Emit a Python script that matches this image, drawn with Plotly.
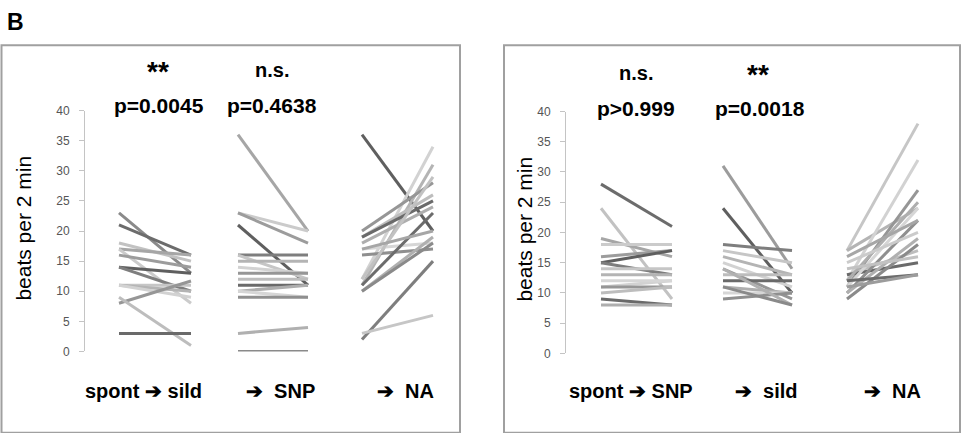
import plotly.graph_objects as go

W, H = 962, 433

# ---------------- data (beats per 2 min) ----------------
# Left panel: spont -> sild, sild -> SNP, SNP -> NA
L1_before = [23, 21, 18, 17, 17, 16, 14, 14, 11, 11, 11, 8, 9, 3]
L1_after  = [13, 16, 15, 16, 8, 14, 13, 10, 11, 10, 9, 11.7, 1, 3]
L2_before = [36, 23, 23, 21, 16, 16, 15, 14, 13, 12, 11, 10, 10, 9, 3, 0]
L2_after  = [20, 20, 18, 11, 16, 12, 15, 13, 13, 12, 11, 11, 9, 9, 4, 0]
L3_before = [36, 2, 3, 11, 12, 20, 19, 19, 18, 17, 16, 10, 10, 11, 12, 17]
L3_after  = [20, 15, 6, 31, 34, 28, 26, 25, 24, 18, 17, 19, 18, 23, 29, 20]

# Right panel: spont -> SNP, SNP -> sild, sild -> NA
R1_before = [28, 24, 19, 18, 16, 15, 15, 14, 13, 11, 11, 10, 9, 8, 12]
R1_after  = [21, 9, 16, 18, 17, 17, 13, 14, 13, 12, 11, 11, 8, 8, 12]
R2_before = [31, 24, 18, 17, 16, 15, 14, 13, 12, 11, 10, 9, 14, 11]
R2_after  = [14, 10, 17, 15, 13, 11, 9, 13, 12, 10, 10, 10, 8, 8]
R3_before = [17, 17, 12, 11, 13, 13, 12, 11, 10, 10, 9, 12, 14, 16, 15, 11]
R3_after  = [38, 24, 32, 27, 17, 15, 25, 24, 22, 19, 18, 13, 16, 22, 20, 13]

ARROW = "\u2794"
left_labels = ["spont " + ARROW + " sild", ARROW + "  SNP", ARROW + "  NA"]
right_labels = ["spont " + ARROW + " SNP", ARROW + "  sild", ARROW + "  NA"]
left_sig = ["**", "n.s."]
left_p = ["p=0.0045", "p=0.4638"]
right_sig = ["n.s.", "**"]
right_p = ["p>0.999", "p=0.0018"]
y_ticks = [0, 5, 10, 15, 20, 25, 30, 35, 40]

# ---------------- style ----------------
GRAYS = ["#8a8a8a", "#6c6c6c", "#c2c2c2", "#a6a6a6", "#cbcbcb", "#9c9c9c",
         "#5f5f5f", "#7e7e7e", "#c6c6c6", "#b4b4b4", "#d2d2d2", "#969696",
         "#bdbdbd", "#6a6a6a", "#aeaeae", "#d6d6d6", "#8f8f8f", "#b0b0b0"]
FONT = "Liberation Sans, Arial, sans-serif"

# segment x positions (pixel-based axis units)
L_SEG = [(119, 191), (238, 308), (362, 433)]
R_SEG = [(601, 672), (723, 792), (847, 918)]

fig = go.Figure()

def add_segments(before, after, seg, xa, ya, offset):
    for i, (a, b) in enumerate(zip(before, after)):
        fig.add_trace(go.Scatter(
            x=[seg[0], seg[1]], y=[a, b], mode="lines",
            line=dict(color=GRAYS[(i + offset) % len(GRAYS)], width=3),
            xaxis=xa, yaxis=ya, showlegend=False, hoverinfo="skip"))

add_segments(L1_before, L1_after, L_SEG[0], "x", "y", 0)
add_segments(L2_before, L2_after, L_SEG[1], "x", "y", 3)
add_segments(L3_before, L3_after, L_SEG[2], "x", "y", 6)
add_segments(R1_before, R1_after, R_SEG[0], "x2", "y2", 1)
add_segments(R2_before, R2_after, R_SEG[1], "x2", "y2", 5)
add_segments(R3_before, R3_after, R_SEG[2], "x2", "y2", 8)

def yax(dom):
    return dict(domain=dom, range=[0, 40], tickvals=y_ticks, showgrid=False,
                zeroline=False, showline=True, linecolor="#c4c4c4", linewidth=1,
                ticks="outside", ticklen=5, tickcolor="#c4c4c4",
                ticklabelstandoff=7,
                tickfont=dict(family=FONT, size=12, color="#555555"),
                fixedrange=True)

def xax(x0, x1):
    return dict(domain=[x0 / W, x1 / W], range=[x0, x1], visible=False,
                fixedrange=True)

fig.update_layout(
    width=W, height=H, margin=dict(l=0, r=0, t=0, b=0),
    paper_bgcolor="white", plot_bgcolor="rgba(0,0,0,0)",
    xaxis=xax(85, 458), yaxis=dict(yax([(H - 356) / H, (H - 107) / H]), anchor="x"),
    xaxis2=xax(566, 955), yaxis2=dict(yax([(H - 358) / H, (H - 108) / H]), anchor="x2"),
)

def px(x):
    return x / W

def py(y):
    return 1 - y / H

shapes = [
    dict(type="rect", xref="paper", yref="paper", x0=px(1.5), x1=px(460),
         y0=py(440), y1=py(39.5), line=dict(color="#a0a0a0", width=2)),
    dict(type="rect", xref="paper", yref="paper", x0=px(504), x1=px(960),
         y0=py(440), y1=py(39.5), line=dict(color="#a0a0a0", width=2)),
]
fig.update_layout(shapes=shapes)

ann = []
def txt(t, x, y, size, bold=True, angle=0):
    s = "<b>%s</b>" % t if bold else t
    ann.append(dict(text=s, x=px(x), y=py(y), xref="paper", yref="paper",
                    xanchor="center", yanchor="middle", showarrow=False,
                    textangle=angle,
                    font=dict(family=FONT, size=size, color="black")))

txt("B", 15, 15, 23)
txt("beats per 2 min", 24, 229, 21, bold=False, angle=-90)
txt("beats per 2 min", 525, 230, 21, bold=False, angle=-90)

for t, x in zip(left_sig, [158, 272]):
    txt(t, x, 67 if t == "**" else 65, 28 if t == "**" else 20)
for t, x in zip(left_p, [159, 272]):
    txt(t, x, 102, 21)
for t, x in zip(right_sig, [636, 758]):
    txt(t, x, 70 if t == "**" else 68, 28 if t == "**" else 20)
for t, x in zip(right_p, [636, 760]):
    txt(t, x, 105, 21)
for t, x in zip(left_labels, [143, 280, 405]):
    txt(t, x, 397, 20)
for t, x in zip(right_labels, [631, 766, 892]):
    txt(t, x, 397, 20)

fig.update_layout(annotations=ann)
fig.write_html("out.html", config={"displayModeBar": False},
               post_script="document.body.style.margin='0';")
